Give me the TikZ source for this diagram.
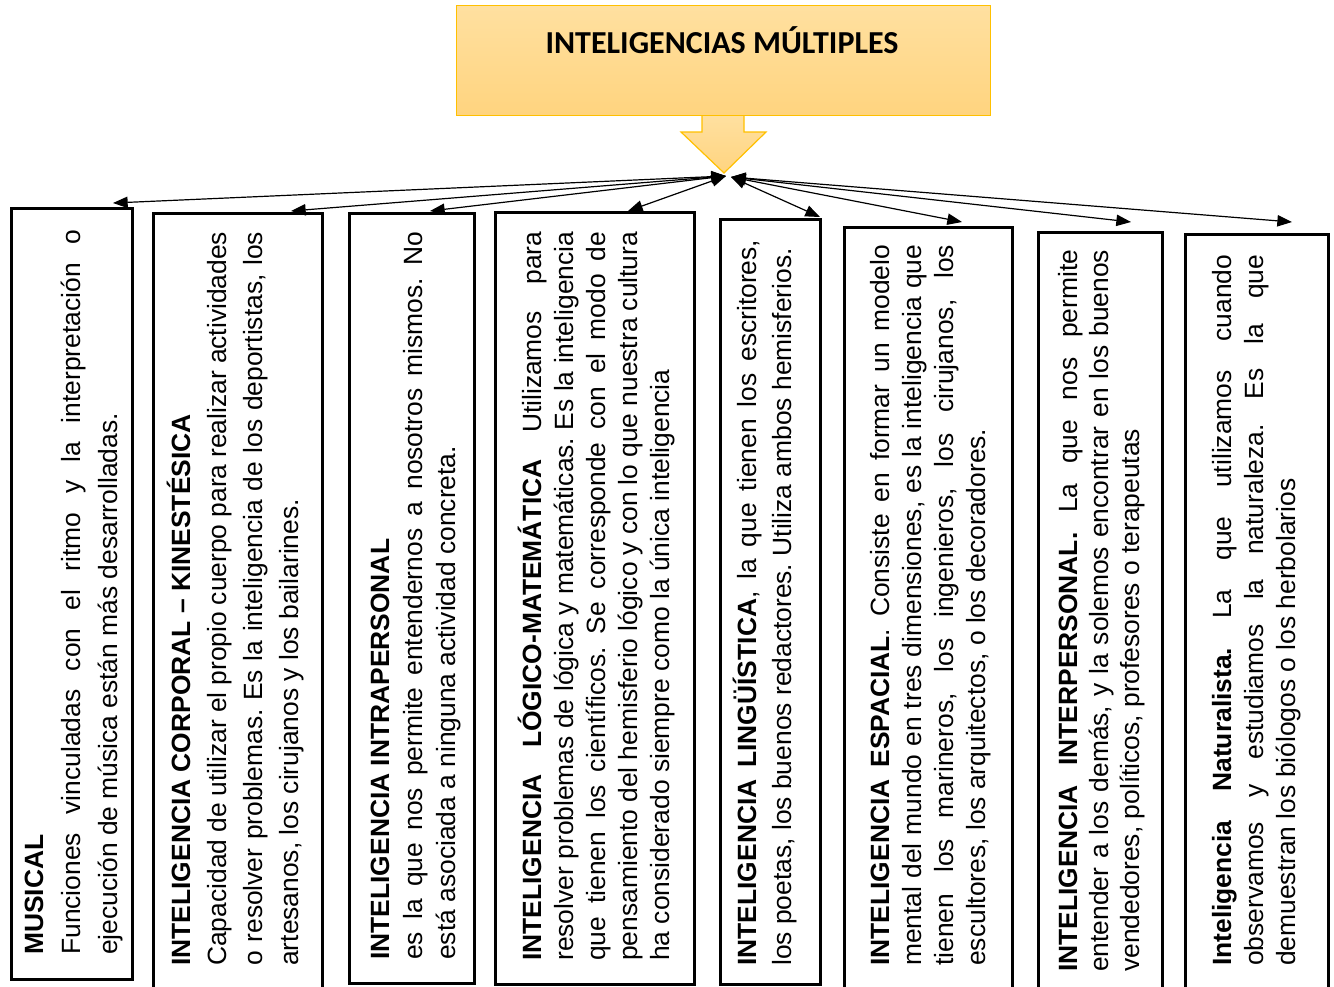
\documentclass[tikz,border=0pt]{standalone}
\usepackage{fontspec}
\setmainfont{Liberation Sans}
\newfontfamily\titlefont{Carlito}
\usetikzlibrary{arrows.meta}
\definecolor{goldline}{HTML}{FFC000}
\definecolor{goldtop}{HTML}{FFE0A0}
\definecolor{goldbot}{HTML}{FFD47F}
\tolerance=10000
\hbadness=10000
\hfuzz=20pt
\frenchspacing

\begin{document}
\begin{tikzpicture}[x=0.75pt,y=-0.75pt,
  frame/.style={draw=black, line width=2pt, inner sep=0pt, anchor=north west},
  boxtext/.style 2 args={rotate=90, anchor=base west, inner sep=0pt,
    align=justify, text width=#1, font=\frenchspacing\fontsize{19.8pt}{#2}\selectfont},
  link/.style={{Triangle[length=11pt,width=8.5pt]}-{Triangle[length=11pt,width=8.5pt]},
    line width=0.9pt},
  headshade/.style={draw=goldline, line width=0.9pt, top color=goldtop, bottom color=goldbot},
]
\useasboundingbox (0,0) rectangle (1334,986);
\clip (0,0) rectangle (1334,986);

% arrow under the title
\shade[headshade] (702,115) -- (744,115) -- (744,132) -- (766,132) -- (724,173)
  -- (681,132) -- (702,132) -- cycle;
% title box
\node[headshade, anchor=north west, inner sep=0pt,
  minimum width=400.5pt, minimum height=82.5pt] (title) at (456,5) {};
\node[anchor=base, inner sep=0pt, font=\titlefont\bfseries\fontsize{24pt}{28pt}\selectfont]
  (titletext) at (722,53) {INTELIGENCIAS MÚLTIPLES};

% frames
\node[frame, minimum width=90.75pt,  minimum height=578.25pt] (b1) at (10,207) {};
\node[frame, minimum width=126.75pt, minimum height=600pt]    (b2) at (152,212) {};
\node[frame, minimum width=93.75pt,  minimum height=577.5pt]  (b3) at (348,212) {};
\node[frame, minimum width=149.25pt, minimum height=579pt]    (b4) at (494,211) {};
\node[frame, minimum width=75pt,     minimum height=573.75pt] (b5) at (719,218) {};
\node[frame, minimum width=126pt,    minimum height=600pt]    (b6) at (843,226) {};
\node[frame, minimum width=93pt,     minimum height=600pt]    (b7) at (1037,231) {};
\node[frame, minimum width=107.25pt, minimum height=600pt]    (b8) at (1184,233) {};

% texts
\node[boxtext={543.75pt}{28pt}] (t1) at (43,955) {%
\textbf{MUSICAL}\newline
Funciones vinculadas con el ritmo y la interpretación o\linebreak
ejecución de música están más desarrolladas.};

\node[boxtext={550.5pt}{27pt}] (t2) at (190,966) {%
\textbf{INTELIGENCIA CORPORAL – KINESTÉSICA}\newline
Capacidad de utilizar el propio cuerpo para realizar actividades\linebreak
o resolver problemas. Es la inteligencia de los deportistas, los\linebreak
artesanos, los cirujanos y los bailarines.};

\node[boxtext={546pt}{24.75pt}] (t3) at (389,960) {%
\textbf{INTELIGENCIA INTRAPERSONAL}\newline
es la que nos permite entendernos a nosotros mismos. No\linebreak
está asociada a ninguna actividad concreta.};

\node[boxtext={546.75pt}{24pt}] (t4) at (541,961) {%
\textbf{INTELIGENCIA LÓGICO-MATEMÁTICA} Utilizamos para\linebreak
resolver problemas de lógica y matemáticas. Es la inteligencia\linebreak
que tienen los científicos. Se corresponde con el modo de\linebreak
pensamiento del hemisferio lógico y con lo que nuestra cultura\linebreak
ha considerado siempre como la única inteligencia};

\node[boxtext={544.5pt}{26.25pt}] (t5) at (756,966) {%
\textbf{INTELIGENCIA LINGÜÍSTICA}, la que tienen los escritores,\linebreak
los poetas, los buenos redactores. Utiliza ambos hemisferios.};

\node[boxtext={540.75pt}{24pt}] (t6) at (889,966) {%
\textbf{INTELIGENCIA ESPACIAL}. Consiste en formar un modelo\linebreak
mental del mundo en tres dimensiones, es la inteligencia que\linebreak
tienen los marineros, los ingenieros, los cirujanos, los\linebreak
escultores, los arquitectos, o los decoradores.};

\node[boxtext={541.5pt}{23.5pt}] (t7) at (1077,972) {%
\textbf{INTELIGENCIA INTERPERSONAL.} La que nos permite\linebreak
entender a los demás, y la solemos encontrar en los buenos\linebreak
vendedores, políticos, profesores o terapeutas};

\node[boxtext={533.25pt}{24.25pt}] (t8) at (1231,966) {%
\textbf{Inteligencia Naturalista.} La que utilizamos cuando\linebreak
observamos y estudiamos la naturaleza. Es la que\linebreak
demuestran los biólogos o los herbolarios};

% connectors from the arrow tip to the frames
\coordinate (hubL) at (726,176);
\coordinate (hubR) at (731,177);
\coordinate (e1) at (113,203);
\coordinate (e2) at (291,211);
\coordinate (e3) at (430,211);
\coordinate (e4) at (628,211);
\coordinate (e5) at (820,217);
\coordinate (e6) at (962,222);
\coordinate (e7) at (1131,222);
\coordinate (e8) at (1292,222);
\draw[link] (hubL) -- (e1);
\draw[link] (hubL) -- (e2);
\draw[link] (hubL) -- (e3);
\draw[link] (hubL) -- (e4);
\draw[link] (hubR) -- (e5);
\draw[link] (hubR) -- (e6);
\draw[link] (hubR) -- (e7);
\draw[link] (hubR) -- (e8);
\end{tikzpicture}
\end{document}
